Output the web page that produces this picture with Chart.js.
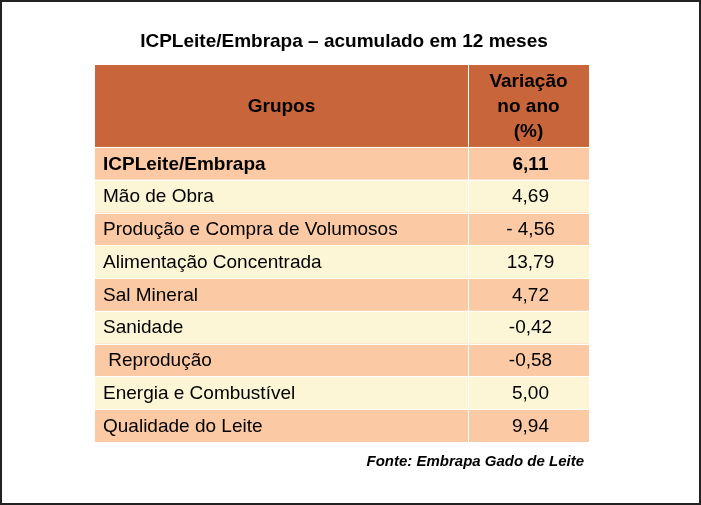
<!DOCTYPE html>
<html>
<head>
<meta charset="utf-8">
<script src="https://cdn.jsdelivr.net/npm/chart.js@4/dist/chart.umd.min.js"></script>
<style>
  html, body { margin: 0; padding: 0; background: #fff; }
  #wrap { width: 701px; height: 505px; position: relative; }
</style>
</head>
<body>
<div id="wrap"><canvas id="c" width="701" height="505"></canvas></div>
<script>
// Table data
const title = 'ICPLeite/Embrapa – acumulado em 12 meses';
const headers = ['Grupos', ['Variação', 'no ano', '(%)']];
const groups = [
    'ICPLeite/Embrapa', 'Mão de Obra', 'Produção e Compra de Volumosos',
    'Alimentação Concentrada', 'Sal Mineral', 'Sanidade', ' Reprodução',
    'Energia e Combustível', 'Qualidade do Leite'
];
const variation = ['6,11', '4,69', '- 4,56', '13,79', '4,72', '-0,42', '-0,58', '5,00', '9,94'];
const source = 'Fonte: Embrapa Gado de Leite';

const HEADER_ROWS = 2.5;   // header is 2.5 body rows tall
const SPLIT = 0.755;       // column divider as fraction of table width
const FONT = '"Liberation Sans", Arial, sans-serif';

const tablePlugin = {
    id: 'table',
    afterDraw(chart) {
        const ctx = chart.ctx;
        const y = chart.scales.y, x = chart.scales.x;
        const L = x.getPixelForValue(0), R = x.getPixelForValue(1);
        const M = x.getPixelForValue(SPLIT);
        ctx.save();

        // frame around the picture
        ctx.strokeStyle = '#222';
        ctx.lineWidth = 2;
        ctx.strokeRect(1, 1, chart.width - 2, chart.height - 2);

        ctx.fillStyle = '#000';
        ctx.textAlign = 'center';
        ctx.textBaseline = 'middle';
        ctx.font = 'bold 19px ' + FONT;
        ctx.fillText(title, 344, 42);

        // header
        const hTop = y.getPixelForValue(0), hBot = y.getPixelForValue(HEADER_ROWS);
        ctx.fillStyle = '#c9653a';
        ctx.fillRect(L, hTop, R - L, hBot - hTop);
        ctx.fillStyle = '#000';
        ctx.font = 'bold 19px ' + FONT;
        ctx.fillText(headers[0], (L + M) / 2, (hTop + hBot) / 2 + 1);
        headers[1].forEach((t, i) => ctx.fillText(t, (M + R) / 2, hTop + 17 + i * 25));

        // body rows
        groups.forEach((g, i) => {
            const t = y.getPixelForValue(HEADER_ROWS + i), b = y.getPixelForValue(HEADER_ROWS + i + 1);
            ctx.fillStyle = i % 2 === 0 ? '#fbcaa5' : '#fdf6d6';
            ctx.fillRect(L, t, R - L, b - t);
            ctx.fillStyle = '#000';
            ctx.font = (i === 0 ? 'bold ' : '') + '19px ' + FONT;
            ctx.textAlign = 'left';
            ctx.fillText(g, L + 8, (t + b) / 2 + 1);
            ctx.textAlign = 'center';
            ctx.fillText(variation[i], (M + R) / 2 + 2, (t + b) / 2 + 1);
        });

        // white grid lines
        ctx.strokeStyle = '#ffffff';
        ctx.lineWidth = 1;
        ctx.beginPath();
        for (let i = 0; i <= groups.length; i++) {
            const py = Math.round(y.getPixelForValue(HEADER_ROWS + i)) + 0.5;
            ctx.moveTo(L, py); ctx.lineTo(R, py);
        }
        ctx.moveTo(Math.round(M) + 0.5, hTop); ctx.lineTo(Math.round(M) + 0.5, y.getPixelForValue(HEADER_ROWS + groups.length));
        ctx.stroke();

        ctx.fillStyle = '#000';
        ctx.textAlign = 'right';
        ctx.font = 'italic bold 15px ' + FONT;
        ctx.fillText(source, 584, 462);
        ctx.restore();
    }
};

new Chart(document.getElementById('c'), {
    type: 'scatter',
    data: { datasets: [{ data: [], pointRadius: 0 }] },
    options: {
        responsive: false,
        animation: false,
        layout: { padding: { top: 65, bottom: 63, left: 95, right: 112 } },
        plugins: { legend: { display: false }, tooltip: { enabled: false } },
        scales: {
            x: { type: 'linear', min: 0, max: 1, display: false },
            y: { type: 'linear', min: 0, max: HEADER_ROWS + groups.length, reverse: true, display: false }
        }
    },
    plugins: [tablePlugin]
});
</script>
</body>
</html>
